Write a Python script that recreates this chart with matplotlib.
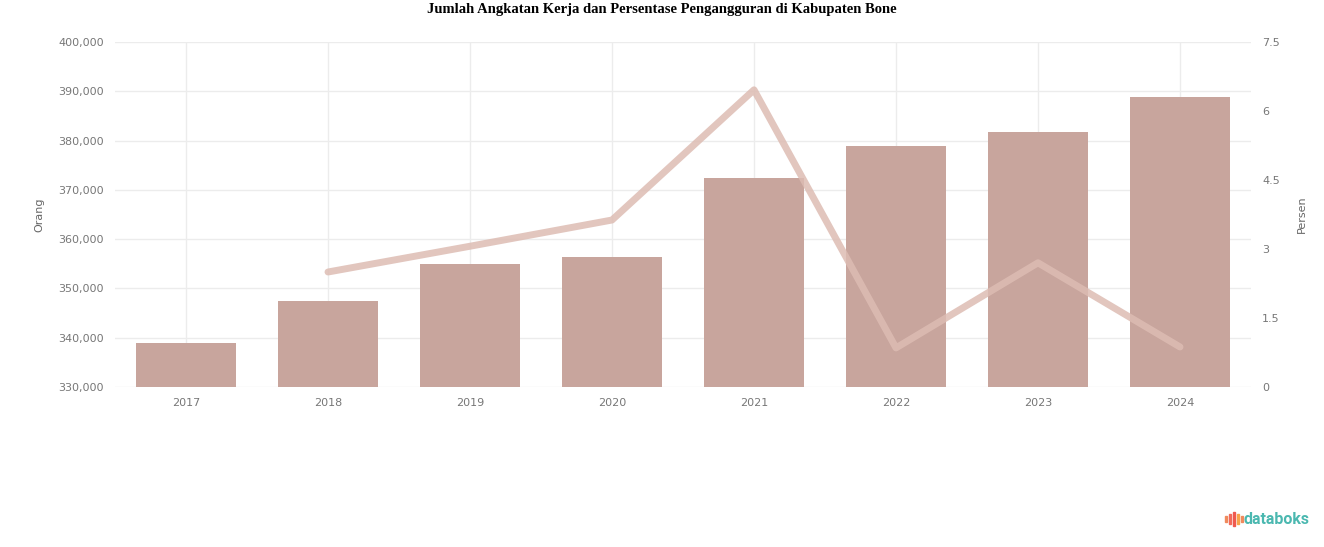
import matplotlib
matplotlib.use("Agg")
import matplotlib.pyplot as plt
from matplotlib.patches import Rectangle

years = ["2017", "2018", "2019", "2020", "2021", "2022", "2023", "2024"]
angkatan_kerja = [338900, 347400, 354900, 356400, 372400, 378900, 381700, 388800]
pengangguran = [None, 2.50, 3.06, 3.63, 6.46, 0.85, 2.70, 0.87]

left_ticks = [330000, 340000, 350000, 360000, 370000, 380000, 390000, 400000]
right_ticks = [0, 1.5, 3, 4.5, 6, 7.5]

title = "Jumlah Angkatan Kerja dan Persentase Pengangguran di Kabupaten Bone"

W, H = 1324, 547
fig = plt.figure(figsize=(W / 100, H / 100), dpi=100)
ax = fig.add_axes([115 / W, 1 - 387 / H, (1251 - 115) / W, (387 - 42) / H])

x = list(range(len(years)))
ax.bar(x, [v - left_ticks[0] for v in angkatan_kerja], bottom=left_ticks[0], width=0.71,
       color="#c8a59d", zorder=3)
ax.set_xlim(-0.5, len(years) - 0.5)
ax.set_ylim(left_ticks[0], left_ticks[-1])
ax.set_yticks(left_ticks)
ax.set_yticklabels([f"{v:,}" for v in left_ticks])
ax.set_xticks(x)
ax.set_xticklabels(years)
ax.grid(True, color="#ececec", linewidth=1, zorder=0)
for s in ax.spines.values():
    s.set_visible(False)
ax.tick_params(length=0, colors="#777777", labelsize=8, pad=8)
ax.set_ylabel("Orang", color="#666666", fontsize=8, labelpad=10)

ax2 = ax.twinx()
px = [i for i, v in enumerate(pengangguran) if v is not None]
py = [v for v in pengangguran if v is not None]
ax2.plot(px, py, color="#ddbcb3", linewidth=5, alpha=0.85, solid_capstyle="round",
         solid_joinstyle="round", zorder=4)
ax2.set_ylim(right_ticks[0], right_ticks[-1])
ax2.set_yticks(right_ticks)
ax2.set_yticklabels([f"{v:g}" for v in right_ticks])
for s in ax2.spines.values():
    s.set_visible(False)
ax2.tick_params(length=0, colors="#777777", labelsize=8, pad=8)
ax2.set_ylabel("Persen", color="#666666", fontsize=8, labelpad=12)

fig.text(0.5, 1 - 10 / H, title, ha="center", va="center", fontsize=10.5,
         fontweight="bold", family="Liberation Serif")

# databoks logo
icon_x = [1225, 1229, 1233, 1237, 1241]
icon_h = [6, 10, 14, 10, 6]
icon_c = ["#f08a5d", "#f26b5b", "#ef5a50", "#f7a34b", "#f08a5d"]
for xi, hi, ci in zip(icon_x, icon_h, icon_c):
    fig.patches.append(Rectangle((xi / W, 1 - (519 + hi / 2) / H), 2 / W, hi / H,
                                 transform=fig.transFigure, color=ci))
fig.text(1244 / W, 1 - 519 / H, "databoks", ha="left", va="center", fontsize=11.5,
         fontweight="bold", color="#4bb8b0", family="Roboto")

fig.savefig("out.png", dpi=100)
